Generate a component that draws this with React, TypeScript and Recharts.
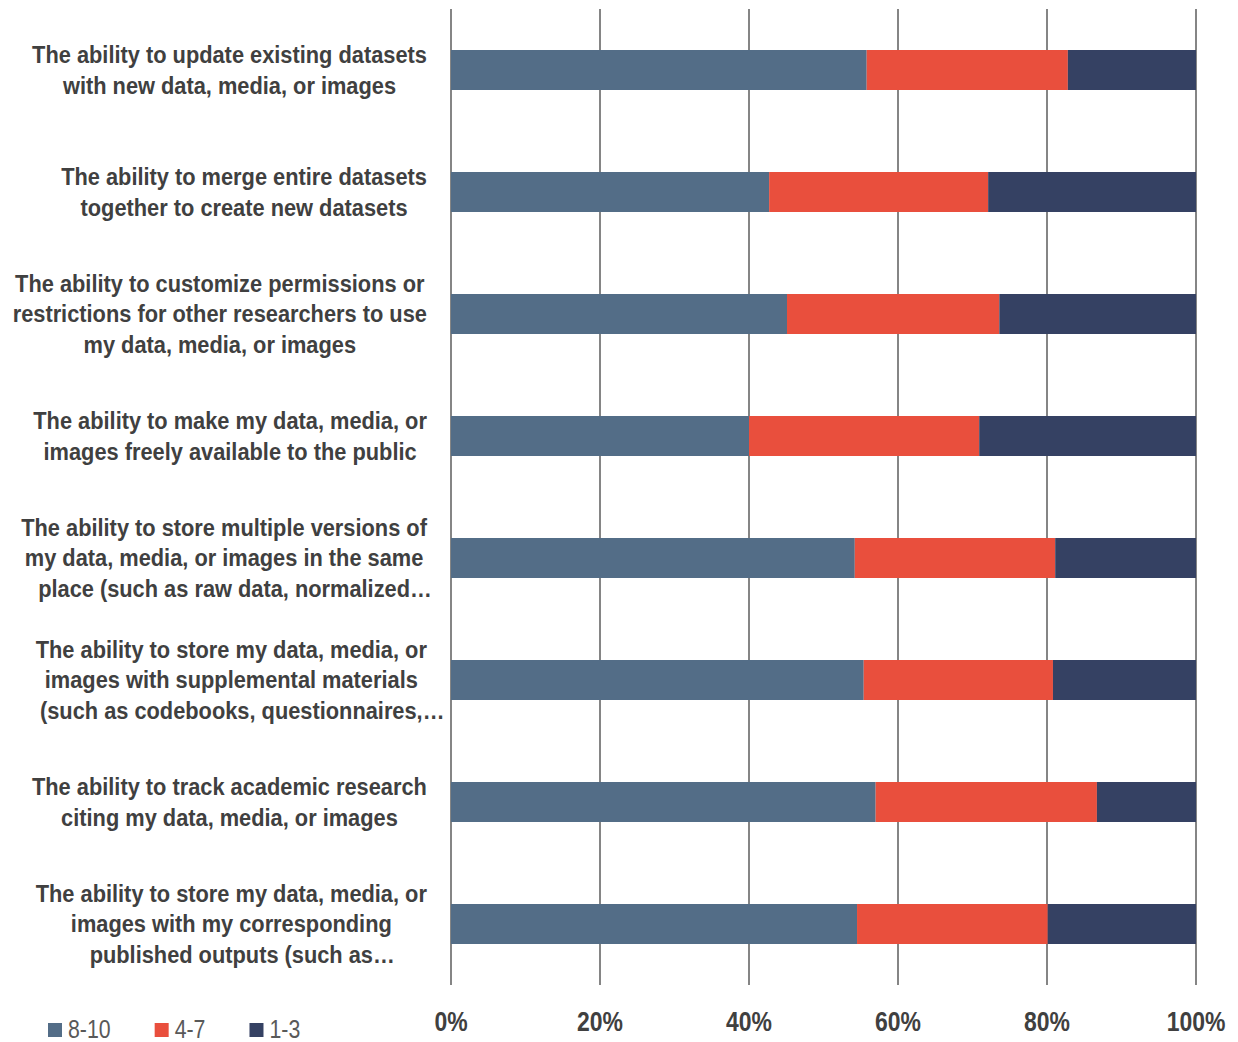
import { BarChart, Bar, XAxis, YAxis, CartesianGrid } from "recharts"

// catégories (lignes de libellé déjà coupées comme dans le graphique)
const categories = [
  ["The ability to update existing datasets", "with new data, media, or images"],
  ["The ability to merge entire datasets", "together to create new datasets"],
  ["The ability to customize permissions or", "restrictions for other researchers to use", "my data, media, or images"],
  ["The ability to make my data, media, or", "images freely available to the public"],
  ["The ability to store multiple versions of", "my data, media, or images in the same", "place (such as raw data, normalized…"],
  ["The ability to store my data, media, or", "images with supplemental materials", "(such as codebooks, questionnaires,…"],
  ["The ability to track academic research", "citing my data, media, or images"],
  ["The ability to store my data, media, or", "images with my corresponding", "published outputs (such as…"],
]

const high = [55.8, 42.7, 45.1, 40.0, 54.2, 55.4, 57.0, 54.5]
const mid = [27.0, 29.4, 28.5, 30.9, 26.9, 25.4, 29.7, 25.6]
const low = [17.2, 27.9, 26.4, 29.1, 18.9, 19.2, 13.3, 19.9]

const xTicks = [0, 20, 40, 60, 80, 100]

const series = [
  { key: "high", name: "8-10", color: "#536d87" },
  { key: "mid", name: "4-7", color: "#e94f3d" },
  { key: "low", name: "1-3", color: "#354163" },
]

const data = categories.map((lines, i) => ({
  id: String(i),
  lines,
  high: high[i],
  mid: mid[i],
  low: low[i],
}))

// pas de police "narrow" installée : on compresse Liberation Sans horizontalement
const FONT = "'Liberation Sans', Arial, sans-serif"
const NARROW = 0.82
const LABEL_SIZE = 23.5
const LINE_H = 30.5
const ELL = "…"

let ctx: CanvasRenderingContext2D | null = null
function measure(t: string, size: number, weight = "bold") {
  if (!ctx) ctx = document.createElement("canvas").getContext("2d")
  if (!ctx) return t.length * size * 0.55
  ctx.font = `${weight} ${size}px ${FONT}`
  return ctx.measureText(t).width
}

// l'ellipse déborde : elle ne compte pas dans le centrage (comme dans l'original)
const stripEll = (l: string) => (l.endsWith(ELL) ? l.slice(0, -1) : l)

const CategoryTick = (props: any) => {
  const { y, payload } = props
  const lines: string[] = data[Number(payload.value)].lines
  const sx = 395 / measure(categories[0][0], LABEL_SIZE)
  const w = Math.max(...lines.map((l) => measure(stripEll(l), LABEL_SIZE))) * sx
  const cx = 427 - w / 2
  const top = y - ((lines.length - 1) * LINE_H) / 2
  const ellW = measure(ELL, LABEL_SIZE)
  return (
    <g transform={`translate(${cx},0) scale(${sx},1)`}>
      <text textAnchor="middle" fill="#404040" fontFamily={FONT} fontWeight="bold" fontSize={LABEL_SIZE}>
        {lines.map((l, i) => (
          <tspan key={i} x={l.endsWith(ELL) ? ellW / 2 : 0} y={top + i * LINE_H} dy="0.36em">
            {l}
          </tspan>
        ))}
      </text>
    </g>
  )
}

const PercentTick = (props: any) => {
  const { x, y, payload } = props
  return (
    <g transform={`translate(${x},${y + 38}) scale(${NARROW},1)`}>
      <text x={0} y={0} textAnchor="middle" fill="#404040" fontFamily={FONT} fontWeight="bold" fontSize={28}>
        {payload.value}%
      </text>
    </g>
  )
}

const LegendRow = () => {
  let x = 48
  const items = series.map((s) => {
    const tw = measure(s.name, 26, "normal") * NARROW
    const it = { ...s, x }
    x += 14 + 6 + tw + 44
    return it
  })
  return (
    <svg width={400} height={40} style={{ position: "absolute", left: 0, top: 1010 }}>
      {items.map((it) => (
        <g key={it.key}>
          <rect x={it.x} y={13} width={14} height={14} fill={it.color} />
          <g transform={`translate(${it.x + 20},${28}) scale(${NARROW},1)`}>
            <text x={0} y={0} fill="#595959" fontFamily={FONT} fontSize={26}>
              {it.name}
            </text>
          </g>
        </g>
      ))}
    </svg>
  )
}

export default function App() {
  return (
    <div style={{ position: "absolute", left: 0, top: 0, width: 1238, height: 1042, background: "#fff" }}>
      <BarChart
        width={1238}
        height={1042}
        data={data}
        layout="vertical"
        barSize={40}
        margin={{ top: 9, right: 42, left: 0, bottom: 0 }}
      >
        <CartesianGrid vertical horizontal={false} stroke="#858585" strokeWidth={2} />
        <XAxis
          type="number"
          domain={[0, 100]}
          ticks={xTicks}
          axisLine={false}
          tickLine={false}
          height={57}
          tick={<PercentTick />}
        />
        <YAxis
          type="category"
          dataKey="id"
          width={451}
          axisLine={false}
          tickLine={false}
          tick={<CategoryTick />}
        />
        {series.map((s) => (
          <Bar key={s.key} dataKey={s.key} name={s.name} stackId="a" fill={s.color} isAnimationActive={false} />
        ))}
      </BarChart>
      <LegendRow />
    </div>
  )
}
